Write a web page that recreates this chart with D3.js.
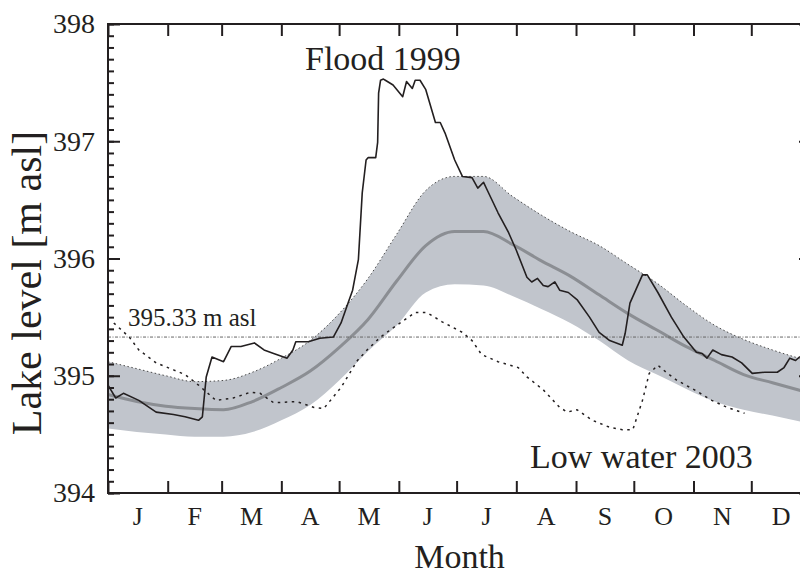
<!DOCTYPE html>
<html>
<head>
  <meta charset="utf-8">
  <title>Lake level</title>
  <script src="https://d3js.org/d3.v7.min.js"></script>
  <style>
    body { margin: 0; background: #fff; }
    svg { display: block; }
    svg text { font-family: "Liberation Serif", "Times New Roman", Times, "DejaVu Serif", serif; fill: #231f20; }
    .tick line { stroke: #231f20; stroke-width: 2px; }
  </style>
</head>
<body>
<script>
  // Month tick labels and boundaries (day of year).
  const months = ["J", "F", "M", "A", "M", "J", "J", "A", "S", "O", "N", "D"];
  const monthStarts = [0, 31, 59, 90, 120, 151, 181, 212, 243, 273, 304, 334, 365];
  const levelTicks = [394, 395, 396, 397, 398];

  // Long-term mean and range band, sampled every ~15 days.
  const bandDays  = [0, 15, 30, 45, 60, 75, 90, 105, 120, 135, 150, 165, 180, 195, 210, 225, 240, 255, 270, 285, 300, 315, 330, 345, 365];
  const bandUpper = [395.12, 395.06, 395.00, 394.95, 394.96, 395.03, 395.15, 395.30, 395.53, 395.83, 396.21, 396.58, 396.70, 396.70, 396.53, 396.37, 396.23, 396.11, 395.95, 395.79, 395.60, 395.43, 395.31, 395.22, 395.12];
  const bandLower = [394.55, 394.52, 394.50, 394.48, 394.48, 394.52, 394.62, 394.75, 394.96, 395.21, 395.43, 395.71, 395.78, 395.77, 395.68, 395.57, 395.45, 395.30, 395.13, 395.01, 394.89, 394.78, 394.71, 394.66, 394.59];
  const meanLevel = [394.84, 394.78, 394.74, 394.72, 394.71, 394.78, 394.90, 395.04, 395.24, 395.48, 395.81, 396.11, 396.23, 396.23, 396.12, 395.98, 395.85, 395.69, 395.53, 395.39, 395.25, 395.13, 395.01, 394.94, 394.85];

  // Flood 1999 [day, level]
  const flood1999 = [
    [0, 394.92], [4, 394.81], [8, 394.85], [16, 394.79], [25, 394.69], [34, 394.67], [40, 394.65], [47, 394.62], [49, 394.65], [51, 394.99],
    [54, 395.16], [60, 395.12], [64, 395.25], [69, 395.25], [76, 395.28], [81, 395.22], [86, 395.19], [93, 395.15], [96, 395.22], [97.5, 395.29],
    [104, 395.29], [110, 395.32], [117, 395.33], [121, 395.45], [124, 395.59], [127, 395.73], [130, 395.99], [132, 396.56], [134, 396.84], [135, 396.86],
    [139, 396.86], [140, 396.99], [140.5, 397.41], [141.5, 397.52], [143, 397.53], [144, 397.52], [148, 397.48], [153, 397.38], [155, 397.51], [158, 397.45],
    [159.5, 397.52], [162, 397.52], [165, 397.44], [170, 397.16], [172.5, 397.16], [175, 397.07], [180, 396.84], [184, 396.70], [189, 396.69], [192, 396.60],
    [195, 396.65], [197, 396.58], [202.5, 396.39], [208, 396.22], [212, 396.07], [217.5, 395.84], [220, 395.80], [223, 395.83], [226, 395.77], [228.5, 395.76],
    [232, 395.80], [234.5, 395.73], [239, 395.71], [243.5, 395.65], [250, 395.50], [255, 395.37], [260.5, 395.30], [267, 395.26], [268.5, 395.36], [271, 395.62],
    [274.5, 395.75], [277.5, 395.86], [280, 395.86], [285.5, 395.71], [292.5, 395.50], [299, 395.33], [305.5, 395.20], [308.5, 395.19], [311, 395.15], [314, 395.22],
    [318.5, 395.18], [324, 395.16], [329, 395.11], [334.5, 395.02], [341, 395.03], [347.5, 395.03], [351, 395.07], [354, 395.15], [357, 395.13], [359, 395.16],
    [365, 395.18]
  ];

  // Low water 2003 [day, level]
  const low2003 = [
    [3, 395.45], [11, 395.33], [16, 395.22], [25, 395.11], [34, 395.05], [40, 395.01], [47, 394.92], [56, 394.79], [65, 394.81], [74, 394.86],
    [79, 394.85], [86, 394.77], [98, 394.78], [107, 394.73], [112, 394.72], [121, 394.90], [129.5, 395.13], [134.5, 395.22], [141.5, 395.33], [149, 395.42],
    [159.5, 395.54], [165.5, 395.54], [173.5, 395.46], [184, 395.37], [189, 395.30], [194, 395.18], [202.5, 395.12], [213, 395.07], [217.5, 394.99], [226, 394.88],
    [234.5, 394.73], [238.5, 394.69], [243.5, 394.71], [251.5, 394.62], [260.5, 394.56], [267, 394.54], [272.5, 394.54], [277.5, 394.79], [281, 395.02], [285.5, 395.09],
    [290.5, 395.02], [295.5, 394.96], [304.5, 394.88], [313.5, 394.79], [321.5, 394.73], [330.5, 394.68]
  ];

  const refLevel = 395.33;

  const serif = "'Liberation Serif', 'Times New Roman', Times, 'DejaVu Serif', serif";
  const width = 800, height = 574;
  const x = d3.scaleLinear().domain([0, 365]).range([108, 811]);
  const y = d3.scaleLinear().domain([394, 398]).range([493, 24]);

  const svg = d3.select("body").append("svg")
      .attr("width", width)
      .attr("height", height)
      .attr("font-family", serif);

  const band = bandDays.map((d, i) => ({ d: d, hi: bandUpper[i], lo: bandLower[i], m: meanLevel[i] }));

  // Range band
  svg.append("path")
    .datum(band)
    .attr("fill", "#c1c5cc")
    .attr("d", d3.area().curve(d3.curveMonotoneX)
        .x(p => x(p.d)).y0(p => y(p.lo)).y1(p => y(p.hi)));

  svg.append("path")
    .datum(band)
    .attr("fill", "none")
    .attr("stroke", "#4a4a4a")
    .attr("stroke-width", 1)
    .attr("stroke-dasharray", "1.5,2.5")
    .attr("d", d3.line().curve(d3.curveMonotoneX).x(p => x(p.d)).y(p => y(p.hi)));

  // Mean
  svg.append("path")
    .datum(band)
    .attr("fill", "none")
    .attr("stroke", "#8b8e93")
    .attr("stroke-width", 3)
    .attr("d", d3.line().curve(d3.curveMonotoneX).x(p => x(p.d)).y(p => y(p.m)));

  // Reference level
  svg.append("line")
    .attr("x1", x(0)).attr("x2", x(365))
    .attr("y1", y(refLevel)).attr("y2", y(refLevel))
    .attr("stroke", "#666")
    .attr("stroke-width", 1)
    .attr("stroke-dasharray", "3,1.5,1,1.5");

  // Low water 2003
  svg.append("path")
    .datum(low2003)
    .attr("fill", "none")
    .attr("stroke", "#231f20")
    .attr("stroke-width", 1.5)
    .attr("stroke-dasharray", "2.5,4.5")
    .attr("d", d3.line().x(p => x(p[0])).y(p => y(p[1])));

  // Flood 1999
  svg.append("path")
    .datum(flood1999)
    .attr("fill", "none")
    .attr("stroke", "#231f20")
    .attr("stroke-width", 1.6)
    .attr("stroke-linejoin", "round")
    .attr("d", d3.line().x(p => x(p[0])).y(p => y(p[1])));

  // Axes: ticks point inward
  const minor = d3.range(394, 398.001, 0.1).map(v => Math.round(v * 10) / 10);
  svg.append("g").attr("transform", "translate(108,0)")
    .call(d3.axisLeft(y).tickValues(minor).tickSize(-6).tickFormat(""))
    .call(g => g.select(".domain").remove());

  svg.append("g").attr("transform", "translate(108,0)")
    .call(d3.axisLeft(y).tickValues(levelTicks).tickSize(-12).tickPadding(13).tickFormat(d3.format("d")))
    .attr("font-family", serif)
    .attr("font-size", 28)
    .call(g => g.select(".domain").remove())
    .call(g => g.selectAll("text").attr("dy", "0.32em").attr("fill", "#231f20"));

  svg.append("g").attr("transform", "translate(811,0)")
    .call(d3.axisRight(y).tickValues(levelTicks).tickSize(-12).tickFormat(""))
    .call(g => g.select(".domain").remove());

  svg.append("g").attr("transform", "translate(0,24)")
    .call(d3.axisTop(x).tickValues(monthStarts).tickSize(-12).tickFormat(""))
    .call(g => g.select(".domain").remove());

  svg.append("g").attr("transform", "translate(0,493)")
    .call(d3.axisBottom(x).tickValues(monthStarts).tickSize(-12).tickFormat(""))
    .call(g => g.select(".domain").remove());

  // Frame
  svg.append("rect")
    .attr("x", 108).attr("y", 24)
    .attr("width", 703).attr("height", 469)
    .attr("fill", "none")
    .attr("stroke", "#231f20")
    .attr("stroke-width", 2);

  // Month labels
  svg.append("g").selectAll("text")
    .data(months)
    .join("text")
      .attr("x", (m, i) => x((monthStarts[i] + monthStarts[i + 1]) / 2))
      .attr("y", 525)
      .attr("text-anchor", "middle")
      .attr("font-size", 26)
      .text(m => m);

  svg.append("text")
    .attr("x", x(182.5)).attr("y", 568)
    .attr("text-anchor", "middle")
    .attr("font-size", 34)
    .text("Month");

  svg.append("text")
    .attr("transform", "translate(41,283) rotate(-90)")
    .attr("text-anchor", "middle")
    .attr("font-size", 42)
    .text("Lake level [m asl]");

  svg.append("text")
    .attr("x", 305).attr("y", 70)
    .attr("font-size", 34)
    .text("Flood 1999");

  svg.append("text")
    .attr("x", 530).attr("y", 468)
    .attr("font-size", 34)
    .text("Low water 2003");

  svg.append("text")
    .attr("x", 128).attr("y", 326)
    .attr("font-size", 25)
    .text("395.33 m asl");
</script>
</body>
</html>
